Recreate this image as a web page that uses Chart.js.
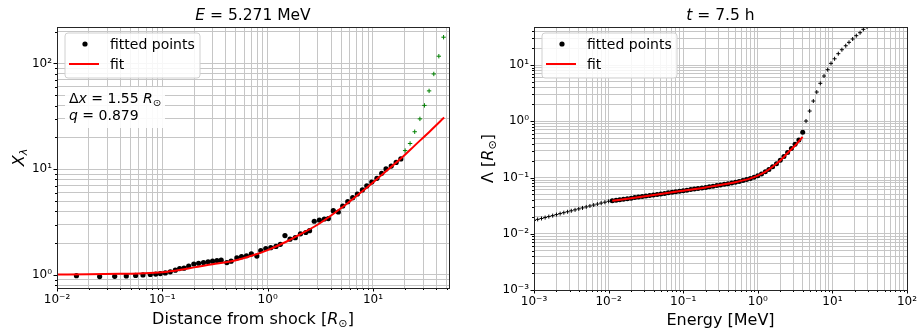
<!DOCTYPE html>
<html>
<head>
<meta charset="utf-8">
<script src="https://cdn.jsdelivr.net/npm/chart.js@4.4.1/dist/chart.umd.min.js"></script>
<style>
  html, body { margin: 0; padding: 0; background: #fff; }
  #wrap { position: relative; width: 919px; height: 336px; }
  canvas { position: absolute; top: 0; }
</style>
</head>
<body>
<div id="wrap">
  <canvas id="left" width="460" height="336" style="left:0;width:460px;height:336px"></canvas>
  <canvas id="right" width="459" height="336" style="left:460px;width:459px;height:336px"></canvas>
</div>
<script>
// ---- left panel: X_lambda vs distance from shock ----
const distDots = [0.0153, 0.0254, 0.0353, 0.0455, 0.0558, 0.0655, 0.0769, 0.0865, 0.0957, 0.1067,
  0.119, 0.1328, 0.146, 0.1607, 0.178, 0.199, 0.221, 0.246, 0.272, 0.300, 0.330, 0.362, 0.41, 0.45,
  0.51, 0.565, 0.63, 0.70, 0.79, 0.86, 0.96, 1.07, 1.2, 1.32, 1.46, 1.63, 1.83, 2.05, 2.3, 2.5,
  2.77, 3.1, 3.45, 3.77, 4.2, 4.69, 5.16, 5.76, 6.42, 7.11, 7.93, 8.73, 9.74, 10.9, 12.1, 13.3,
  14.9, 16.6, 18.4];
const xlamDots = [0.985, 0.965, 0.97, 0.98, 0.99, 1.0, 1.01, 1.02, 1.03, 1.045,
  1.07, 1.11, 1.15, 1.16, 1.21, 1.27, 1.29, 1.31, 1.33, 1.35, 1.37, 1.38, 1.31, 1.35,
  1.45, 1.49, 1.52, 1.58, 1.51, 1.70, 1.78, 1.81, 1.86, 1.95, 2.36, 2.18, 2.25, 2.45, 2.52, 2.62,
  3.22, 3.3, 3.38, 3.41, 4.05, 3.94, 4.49, 4.93, 5.38, 5.83, 6.37, 6.95, 7.57, 8.2, 9.16, 10.05,
  10.7, 11.6, 12.5];
const distExtra = [20.2, 22.5, 24.9, 27.9, 30.8, 34.1, 37.8, 42.2, 46.8];
const xlamExtra = [15.0, 17.5, 22.6, 29.9, 40.1, 55, 79.5, 117, 177];
const distFit = [0.01, 0.02, 0.04, 0.06, 0.1, 0.15, 0.2, 0.3, 0.5, 0.7, 1, 1.5, 2, 3, 5, 7, 10, 14, 18.4, 25, 35, 47.4];
const xlamFit = [1.01, 1.015, 1.025, 1.035, 1.06, 1.12, 1.18, 1.26, 1.38, 1.52, 1.72, 2.06, 2.4, 3.0, 4.3, 5.6, 7.5, 10.0, 12.6, 16.8, 23.0, 30.8];

// ---- right panel: Lambda vs energy ----
const energyLow = [0.001, 0.00112, 0.00126, 0.00141, 0.00158, 0.00178, 0.002, 0.00224, 0.00251, 0.00282,
  0.00316, 0.00355, 0.00398, 0.00447, 0.00501, 0.00562, 0.00631, 0.00708, 0.00794, 0.00891, 0.01];
const lambdaLow = [0.0173, 0.0180, 0.0187, 0.0194, 0.0202, 0.0210, 0.0219, 0.0228, 0.0237, 0.0246,
  0.0256, 0.0266, 0.0277, 0.0288, 0.0300, 0.0312, 0.0324, 0.0337, 0.0351, 0.0364, 0.0378];
const energyHigh = [4.43, 4.96, 5.55, 6.17, 6.89, 7.72, 8.65, 9.58, 10.7, 12.0, 13.4, 15.1, 16.7, 18.7, 20.9, 23.5, 26.0, 29.1, 32.5];
const lambdaHigh = [1.01, 1.52, 2.29, 3.31, 4.73, 6.37, 8.26, 10.7, 12.9, 15.9, 18.7, 22.0, 25.3, 29.0, 33.2, 37.5, 43.1, 47.4, 52];
const energyDots = [0.0112, 0.0126, 0.0141, 0.0158, 0.0178, 0.02, 0.0224, 0.0251, 0.0282, 0.0316,
  0.0355, 0.0398, 0.0447, 0.0501, 0.0562, 0.0631, 0.0708, 0.0794, 0.0891, 0.1, 0.112, 0.126, 0.141,
  0.158, 0.178, 0.2, 0.224, 0.251, 0.282, 0.316, 0.355, 0.398, 0.447, 0.501, 0.562, 0.631, 0.708,
  0.794, 0.891, 1.0, 1.12, 1.26, 1.41, 1.58, 1.78, 2.0, 2.24, 2.51, 2.82, 3.16, 3.55, 4.0];
const lambdaDots = [0.0385, 0.0393, 0.0402, 0.0411, 0.0420, 0.0429, 0.0439, 0.0448, 0.0458, 0.0468,
  0.0479, 0.0489, 0.0500, 0.0511, 0.0522, 0.0534, 0.0546, 0.0558, 0.0570, 0.0583, 0.0596, 0.0609, 0.0623,
  0.0637, 0.0652, 0.0667, 0.0683, 0.0700, 0.0718, 0.0737, 0.0757, 0.0778, 0.0801, 0.0826, 0.0853, 0.0884, 0.0920,
  0.0963, 0.1015, 0.108, 0.116, 0.126, 0.139, 0.155, 0.176, 0.203, 0.236, 0.277, 0.327, 0.389, 0.465, 0.64];
const energyFit = [0.0112, 0.02, 0.05, 0.1, 0.2, 0.5, 0.8, 1.0, 1.26, 1.58, 2.0, 2.51, 3.16, 3.55, 3.98];
const lambdaFit = [0.0385, 0.0429, 0.051, 0.0583, 0.0667, 0.0826, 0.0965, 0.108, 0.126, 0.155, 0.2, 0.272, 0.37, 0.44, 0.53];

// axis limits and labelled decades
const leftX = [0.01, 52.7];
const leftY = [0.753, 221];
const rightX = [0.001, 100];
const rightY = [0.001, 47.4];

const FONT = "'DejaVu Sans'";
const SUP = { '-': '\u207B', '0': '\u2070', '1': '\u00B9', '2': '\u00B2', '3': '\u00B3' };

const pts = (xs, ys) => xs.map((x, i) => ({ x, y: ys[i] }));
const isDecade = v => Math.abs(Math.log10(v) - Math.round(Math.log10(v))) < 1e-6;
const powLabel = v => '10' + String(Math.round(Math.log10(v))).split('').map(c => SUP[c]).join('');

// all 1..9 x 10^k ticks inside [min, max]
function logTicks(min, max) {
  const out = [];
  for (let k = Math.floor(Math.log10(min)); k <= Math.ceil(Math.log10(max)); k++) {
    for (let m = 1; m <= 9; m++) {
      const v = m * Math.pow(10, k);
      if (v >= min * 0.9999 && v <= max * 1.0001) out.push({ value: v, major: m === 1 });
    }
  }
  return out;
}

function logAxis(range, size, isX) {
  return {
    type: 'logarithmic',
    min: range[0],
    max: range[1],
    bounds: 'data',
    afterBuildTicks: s => { s.ticks = logTicks(range[0], range[1]); },
    afterFit: s => {
      if (isX) s.height = size; else s.width = size;
      s.paddingLeft = 0; s.paddingRight = 0; s.paddingTop = 0; s.paddingBottom = 0;
    },
    grid: { color: '#c6c6c6', lineWidth: 1, drawTicks: false },
    border: { display: false },
    ticks: {
      autoSkip: false, maxRotation: 0, minRotation: 0, padding: isX ? 5 : 5,
      color: '#000', font: { family: 'DejaVu Sans', size: 12 },
      callback: v => isDecade(v) ? powLabel(v) : ''
    }
  };
}

// mixed italic / subscript text, parts = [[text, italic, sub]]
function rich(ctx, parts, x, y, size, align, rotate) {
  ctx.save();
  ctx.translate(x, y);
  if (rotate) ctx.rotate(-Math.PI / 2);
  const fnt = p => (p[1] ? 'italic ' : '') + (p[2] ? size * 0.7 : size) + 'px ' + FONT;
  let w = 0;
  parts.forEach(p => { ctx.font = fnt(p); w += ctx.measureText(p[0]).width; });
  let cx = align === 'left' ? 0 : -w / 2;
  ctx.fillStyle = '#000';
  ctx.textAlign = 'left';
  ctx.textBaseline = 'alphabetic';
  parts.forEach(p => {
    ctx.font = fnt(p);
    ctx.fillText(p[0], cx, size * 0.36 + (p[2] ? size * 0.22 : 0));
    cx += ctx.measureText(p[0]).width;
  });
  ctx.restore();
}

function legendBox(ctx, x0) {
  const y0 = 33, w = 135, h = 45, r = 3;
  ctx.beginPath();
  ctx.moveTo(x0 + r, y0);
  ctx.arcTo(x0 + w, y0, x0 + w, y0 + h, r);
  ctx.arcTo(x0 + w, y0 + h, x0, y0 + h, r);
  ctx.arcTo(x0, y0 + h, x0, y0, r);
  ctx.arcTo(x0, y0, x0 + w, y0, r);
  ctx.closePath();
  ctx.fillStyle = 'rgba(255,255,255,0.85)';
  ctx.fill();
  ctx.strokeStyle = '#d0d0d0';
  ctx.lineWidth = 1;
  ctx.stroke();
  ctx.fillStyle = '#000';
  ctx.beginPath();
  ctx.arc(x0 + 20, 44, 2.6, 0, Math.PI * 2);
  ctx.fill();
  ctx.strokeStyle = '#ff0000';
  ctx.lineWidth = 2;
  ctx.beginPath();
  ctx.moveTo(x0 + 4, 64);
  ctx.lineTo(x0 + 34, 64);
  ctx.stroke();
  rich(ctx, [['fitted points']], x0 + 45, 44, 14, 'left');
  rich(ctx, [['fit']], x0 + 45, 64, 14, 'left');
}

// frame, tick marks and all the texts that carry maths
function decor(extra) {
  return {
    id: 'decor',
    afterDraw(chart) {
      const { ctx, chartArea: a } = chart;
      ctx.save();
      ctx.strokeStyle = '#000';
      ctx.lineWidth = 1;
      ['x', 'y'].forEach(id => {
        const s = chart.scales[id];
        s.ticks.forEach(t => {
          const len = isDecade(t.value) ? 3.5 : 2;
          const p = Math.round(s.getPixelForValue(t.value)) + 0.5;
          ctx.beginPath();
          if (id === 'x') { ctx.moveTo(p, a.bottom); ctx.lineTo(p, a.bottom + len); }
          else { ctx.moveTo(a.left, p); ctx.lineTo(a.left - len, p); }
          ctx.stroke();
        });
      });
      ctx.strokeStyle = '#262626';
      ctx.strokeRect(Math.round(a.left) + 0.5, Math.round(a.top) + 0.5, Math.round(a.width), Math.round(a.height));
      extra(ctx, a);
      ctx.restore();
    }
  };
}

function panel(id, datasets, xr, yr, yWidth, xHeight, padRight, extra) {
  return new Chart(document.getElementById(id), {
    type: 'scatter',
    data: { datasets },
    options: {
      responsive: false,
      animation: false,
      events: [],
      layout: { padding: { top: 27, right: padRight, left: 0, bottom: 0 } },
      plugins: { legend: { display: false }, tooltip: { enabled: false } },
      scales: { x: logAxis(xr, xHeight, true), y: logAxis(yr, yWidth, false) }
    },
    plugins: [decor(extra)]
  });
}

panel('left', [
  { label: 'fit', data: pts(distFit, xlamFit), showLine: true, borderColor: '#ff0000', borderWidth: 2,
    pointRadius: 0, cubicInterpolationMode: 'monotone' },
  { label: 'fitted points', data: pts(distDots, xlamDots), backgroundColor: '#000', borderColor: '#000',
    borderWidth: 0, pointRadius: 2.6 },
  { label: 'extrapolated', data: pts(distExtra, xlamExtra), pointStyle: 'cross', borderColor: '#008000',
    borderWidth: 1, pointRadius: 2.2 }
], leftX, leftY, 57, 48, 11, (ctx, a) => {
  rich(ctx, [['E', 1], [' = 5.271 MeV']], (a.left + a.right) / 2, 14, 15.5, 'center');
  rich(ctx, [['Distance from shock ['], ['R', 1], ['\u2299', 0, 1], [']']], (a.left + a.right) / 2, 318, 16, 'center');
  rich(ctx, [['X', 1], ['\u03BB', 1, 1]], 18, (a.top + a.bottom) / 2, 16, 'center', true);
  legendBox(ctx, 65);
  ctx.fillStyle = 'rgba(255,255,255,0.9)';
  ctx.fillRect(65, 87, 100, 41);
  rich(ctx, [['\u0394'], ['x', 1], [' = 1.55 '], ['R', 1], ['\u2299', 0, 1]], 69, 98, 14, 'left');
  rich(ctx, [['q', 1], [' = 0.879']], 69, 115, 14, 'left');
});

panel('right', [
  { label: 'fit', data: pts(energyFit, lambdaFit), showLine: true, borderColor: '#ff0000', borderWidth: 2,
    pointRadius: 0, cubicInterpolationMode: 'monotone' },
  { label: 'fitted points', data: pts(energyDots, lambdaDots), backgroundColor: '#000', borderColor: '#000',
    borderWidth: 0, pointRadius: 2.5 },
  { label: 'data', data: pts(energyLow, lambdaLow).concat(pts(energyHigh, lambdaHigh)), pointStyle: 'cross',
    borderColor: '#000', borderWidth: 1, pointRadius: 2 }
], rightX, rightY, 74, 46, 12, (ctx, a) => {
  rich(ctx, [['t', 1], [' = 7.5 h']], (a.left + a.right) / 2, 14, 15.5, 'center');
  rich(ctx, [['Energy [MeV]']], (a.left + a.right) / 2, 319, 16, 'center');
  rich(ctx, [['\u039B ['], ['R', 1], ['\u2299', 0, 1], [']']], 27, (a.top + a.bottom) / 2, 16, 'center', true);
  legendBox(ctx, 82);
});
</script>
</body>
</html>
